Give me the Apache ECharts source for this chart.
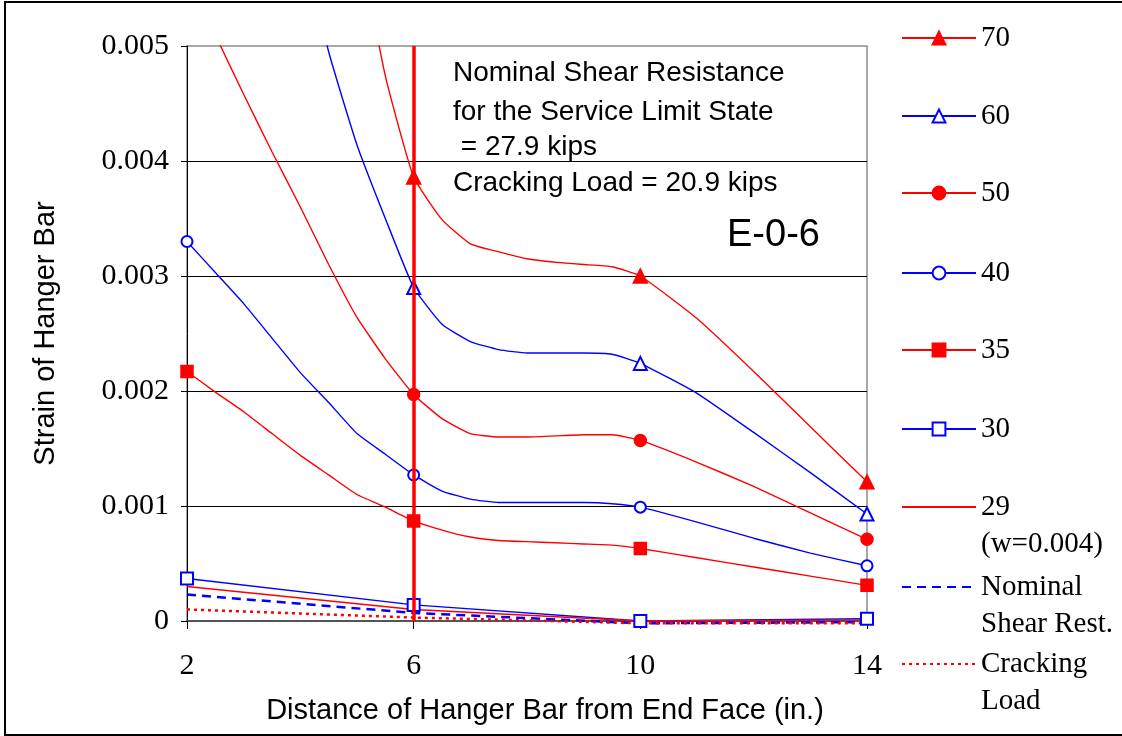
<!DOCTYPE html>
<html>
<head>
<meta charset="utf-8">
<title>E-0-6 hanger bar strain</title>
<script src="https://cdn.jsdelivr.net/npm/echarts@6/dist/echarts.min.js"></script>
<style>
  html, body { margin: 0; padding: 0; background: #fff; }
  #chart { width: 1122px; height: 736px; }
  #frame { position: absolute; left: 4px; top: 1px; width: 1130px; height: 731px; border: 2px solid #000; pointer-events: none; }
</style>
</head>
<body>
<div id="chart"></div>
<div id="frame"></div>
<script>
// distance of hanger bar from end face (in.)
var distance = [2, 2.5, 3, 3.5, 4, 4.5, 5, 5.5, 6, 6.5, 7, 7.5, 8, 8.5, 9, 9.5, 10, 11, 12, 13, 14];
// gauge positions (the marked points)
var gauges = [2, 6, 10, 14];
var xTicks = [2, 6, 10, 14];

// strain per load level (kips)
var strain70 = [0.0125, 0.0115, 0.0105, 0.0095, 0.0085, 0.0073, 0.0060, 0.00474, 0.00386, 0.00349, 0.00328, 0.00321, 0.00315, 0.00312, 0.0031, 0.00308, 0.0030, 0.00263, 0.00217, 0.00169, 0.00121];
var strain60 = [0.0104, 0.0093, 0.0082, 0.0071, 0.0060, 0.00495, 0.00414, 0.0035, 0.0029, 0.00258, 0.00243, 0.00236, 0.00233, 0.00233, 0.00233, 0.00232, 0.00224, 0.00198, 0.00164, 0.00129, 0.00093];
var strain50 = [0.0057, 0.0051, 0.00458, 0.00408, 0.0036, 0.0031, 0.00264, 0.00228, 0.00197, 0.00176, 0.00163, 0.0016, 0.0016, 0.00161, 0.00162, 0.00162, 0.00157, 0.00138, 0.00117, 0.00094, 0.00071];
var strain40 = [0.0033, 0.00303, 0.00276, 0.00246, 0.00216, 0.0019, 0.00163, 0.00145, 0.00127, 0.00113, 0.00106, 0.00103, 0.00103, 0.00103, 0.00103, 0.00102, 0.00099, 0.00086, 0.00072, 0.00059, 0.00048];
var strain35 = [0.00217, 0.00199, 0.00182, 0.00163, 0.00144, 0.00127, 0.0011, 0.00099, 0.00087, 0.00079, 0.00073, 0.0007, 0.00069, 0.00068, 0.00067, 0.00066, 0.00063, 0.00055, 0.00047, 0.00039, 0.00031];
// low loads only at the gauges
var strain30 = [0.00037, 0.00014, 0.0, 0.00002];
var strain29 = [0.0003, 0.0001, 0.0, 0.00001];
var strainNominal = [0.00023, 0.00007, -0.00002, -0.00001];
var strainCracking = [0.0001, 0.00003, -0.00002, -0.00002];

var seriesNames = ['70', '60', '50', '40', '35', '30', '29 (w=0.004)', 'Nominal Shear Rest.', 'Cracking Load'];
var legendLines = [['70'], ['60'], ['50'], ['40'], ['35'], ['30'], ['29', '(w=0.004)'], ['Nominal', 'Shear Rest.'], ['Cracking', 'Load']];
var yTickLabels = ['0', '0.001', '0.002', '0.003', '0.004', '0.005'];

var RED = '#ff0000';
var BLUE = '#0000ff';

function curve(xs, ys) {
    return xs.map(function (x, i) {
        var item = { value: [x, ys[i]] };
        if (gauges.indexOf(x) < 0) item.symbol = 'none';
        return item;
    });
}

function lineSeries(name, data, color, symbol, size, extra) {
    var s = {
        name: name,
        type: 'line',
        data: data,
        smooth: 0.15,
        symbol: symbol,
        symbolSize: size,
        showSymbol: true,
        color: color,
        lineStyle: { color: color, width: 1.4 },
        itemStyle: { color: color, borderColor: color, borderWidth: 1.5 },
        emphasis: { disabled: true }
    };
    for (var k in extra) s[k] = extra[k];
    return s;
}

var chart = echarts.init(document.getElementById('chart'));

var noMarker = ['29 (w=0.004)', 'Nominal Shear Rest.', 'Cracking Load'];
var legends = legendLines.map(function (lines, i) {
    var centers = [38, 116, 193, 273, 350, 429, 507, 587, 664];
    var lh = 37;
    var nLines = lines.length > 1 ? 3 : 1;
    var lg = {
        data: [seriesNames[i]],
        left: 901,
        top: centers[i] - nLines * lh / 2,
        padding: 0,
        itemWidth: 74,
        itemHeight: 16,
        selectedMode: false,
        formatter: function () {
            return lines.length > 1 ? ' \n' + lines.join('\n') : lines[0];
        },
        textStyle: { fontFamily: 'Liberation Serif', fontSize: 29, lineHeight: lh, color: '#000' }
    };
    if (noMarker.indexOf(seriesNames[i]) >= 0) lg.itemStyle = { opacity: 0 };
    return lg;
});

var option = {
    animation: false,
    backgroundColor: '#fff',
    grid: { left: 187, right: 255, top: 46, bottom: 115, show: true, borderColor: '#8c8c8c', borderWidth: 1.5, backgroundColor: 'transparent' },
    legend: legends,
    xAxis: {
        type: 'value',
        min: 2,
        max: 14,
        name: 'Distance of Hanger Bar from End Face (in.)',
        nameLocation: 'middle',
        nameGap: 75,
        nameTextStyle: { fontFamily: 'Liberation Sans', fontSize: 29, color: '#000', padding: [0, 0, 0, 36] },
        axisLine: { lineStyle: { color: '#555', width: 2 } },
        axisTick: { show: true, length: 8, customValues: xTicks, lineStyle: { color: '#000', width: 1 } },
        axisLabel: { customValues: xTicks, margin: 30, fontFamily: 'Liberation Serif', fontSize: 30, color: '#000' },
        splitLine: { show: false }
    },
    yAxis: {
        type: 'value',
        min: 0,
        max: 0.005,
        interval: 0.001,
        name: 'Strain of Hanger Bar',
        nameLocation: 'middle',
        nameGap: 127,
        nameTextStyle: { fontFamily: 'Liberation Sans', fontSize: 29, color: '#000' },
        axisLine: { show: true, lineStyle: { color: '#000', width: 1 } },
        axisTick: { show: true, length: 6, lineStyle: { color: '#000' } },
        axisLabel: {
            margin: 18, fontFamily: 'Liberation Serif', fontSize: 30, color: '#000',
            formatter: function (v) { return yTickLabels[Math.round(v * 1000)]; }
        },
        splitLine: { show: true, showMinLine: false, showMaxLine: false, lineStyle: { color: '#000', width: 1 } }
    },
    graphic: [
        { type: 'text', x: 453, y: 73, style: { text: 'Nominal Shear Resistance', font: '28px "Liberation Sans"', fill: '#000', verticalAlign: 'middle' } },
        { type: 'text', x: 453, y: 112, style: { text: 'for the Service Limit State', font: '28px "Liberation Sans"', fill: '#000', verticalAlign: 'middle' } },
        { type: 'text', x: 453, y: 147, style: { text: ' = 27.9 kips', font: '28px "Liberation Sans"', fill: '#000', verticalAlign: 'middle' } },
        { type: 'text', x: 453, y: 183, style: { text: 'Cracking Load = 20.9 kips', font: '28px "Liberation Sans"', fill: '#000', verticalAlign: 'middle' } },
        { type: 'text', x: 727, y: 236, style: { text: 'E-0-6', font: '38px "Liberation Sans"', fill: '#000', verticalAlign: 'middle' } }
    ],
    series: [
        lineSeries(seriesNames[0], curve(distance, strain70), RED, 'triangle', 14),
        lineSeries(seriesNames[1], curve(distance, strain60), BLUE, 'emptyTriangle', 13),
        lineSeries(seriesNames[2], curve(distance, strain50), RED, 'circle', 12),
        lineSeries(seriesNames[3], curve(distance, strain40), BLUE, 'emptyCircle', 11),
        lineSeries(seriesNames[4], curve(distance, strain35), RED, 'rect', 12),
        lineSeries(seriesNames[5], curve(gauges, strain30), BLUE, 'emptyRect', 12, { smooth: false, clip: false }),
        lineSeries(seriesNames[6], curve(gauges, strain29), RED, 'none', 0, { smooth: false, clip: false }),
        lineSeries(seriesNames[7], curve(gauges, strainNominal), BLUE, 'none', 0, {
            smooth: false, clip: false,
            lineStyle: { color: BLUE, width: 2.5, type: [9, 6] }
        }),
        lineSeries(seriesNames[8], curve(gauges, strainCracking), RED, 'none', 0, {
            smooth: false, clip: false,
            lineStyle: { color: RED, width: 2.5, type: [3, 4] },
            // service limit state gauge line at 6 in.
            markLine: {
                silent: true,
                symbol: ['none', 'none'],
                label: { show: false },
                lineStyle: { color: RED, width: 3.5, type: 'solid' },
                data: [{ xAxis: 6 }]
            }
        })
    ]
};

chart.setOption(option);

window.addEventListener('resize', function () {
    chart.resize();
});
</script>
</body>
</html>
